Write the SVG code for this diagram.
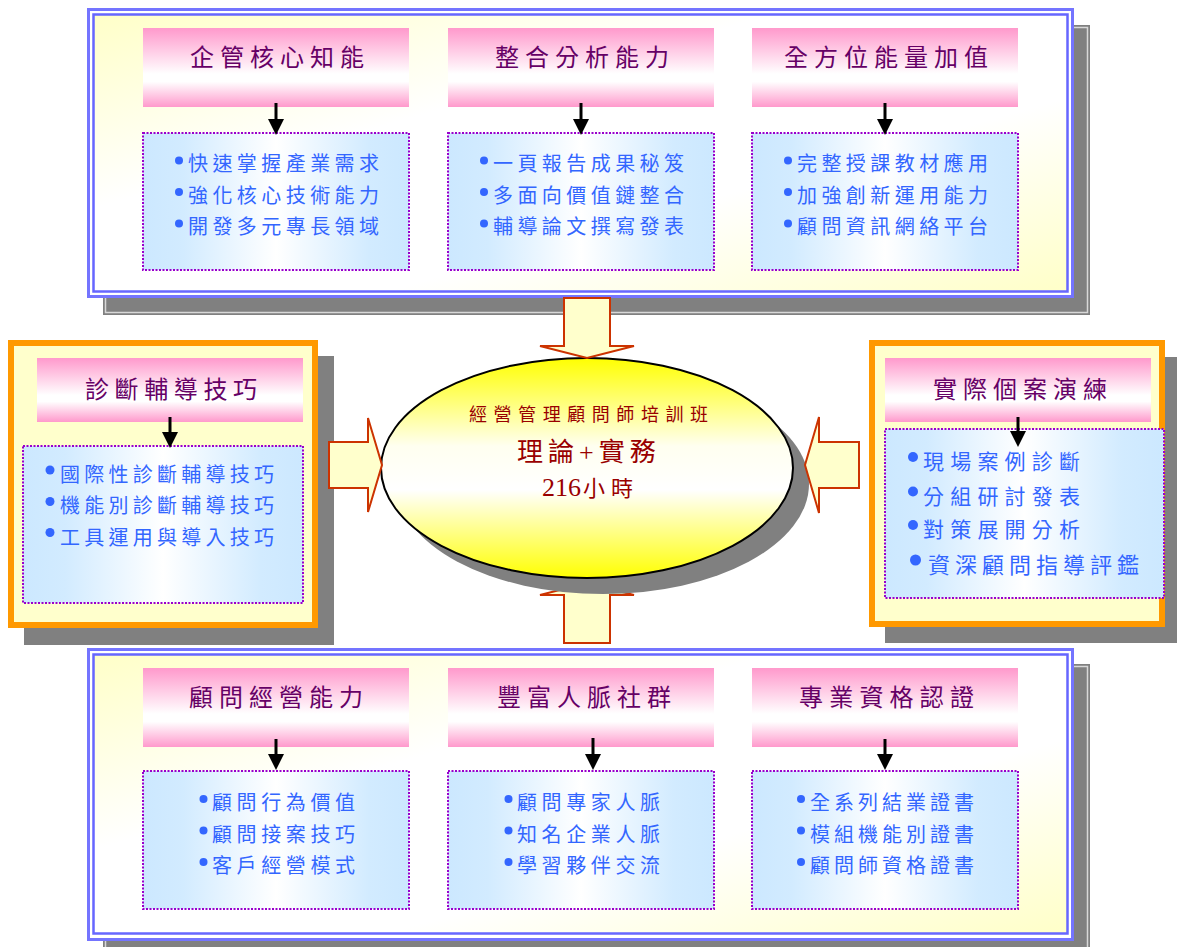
<svg xmlns="http://www.w3.org/2000/svg" width="1177" height="947" viewBox="0 0 1177 947">
<defs>
<linearGradient id="panelGrad" x1="0" y1="0" x2="1" y2="1">
<stop offset="0" stop-color="#ffffc8"/>
<stop offset="0.35" stop-color="#ffffff"/>
<stop offset="0.65" stop-color="#ffffff"/>
<stop offset="1" stop-color="#ffffc8"/>
</linearGradient>
<linearGradient id="pink" x1="0" y1="0" x2="0" y2="1">
<stop offset="0" stop-color="#ff99cc"/>
<stop offset="0.58" stop-color="#ffffff"/>
<stop offset="0.68" stop-color="#ffffff"/>
<stop offset="1" stop-color="#ff99cc"/>
</linearGradient>
<linearGradient id="blue" x1="0" y1="0" x2="1" y2="0">
<stop offset="0" stop-color="#cce8ff"/>
<stop offset="0.15" stop-color="#d2ebff"/>
<stop offset="0.5" stop-color="#ffffff"/>
<stop offset="0.85" stop-color="#d2ebff"/>
<stop offset="1" stop-color="#cce8ff"/>
</linearGradient>
<linearGradient id="ellGrad" x1="0" y1="0" x2="0" y2="1">
<stop offset="0" stop-color="#ffff00"/>
<stop offset="0.4" stop-color="#fffff0"/>
<stop offset="0.6" stop-color="#ffffff"/>
<stop offset="1" stop-color="#ffff00"/>
</linearGradient>
<marker id="ah" markerUnits="userSpaceOnUse" markerWidth="16" markerHeight="16" refX="8" refY="8" orient="auto">
<path d="M0,0 L16,8 L0,16 z" fill="#000"/>
</marker>
<style>
.title{font-family:"Noto Sans CJK TC","Noto Sans CJK SC",sans-serif;font-size:24px;fill:#660066;}
.item{font-family:"Noto Sans CJK TC","Noto Sans CJK SC",sans-serif;font-size:20px;fill:#3366ff;}
.ctr{font-family:"Liberation Serif","Noto Sans CJK TC",serif;fill:#990000;}
.hdr{fill:url(#pink);}
.lst{fill:url(#blue);stroke:#9900cc;stroke-width:2;stroke-dasharray:2 1.5;}
.dot{fill:#3366ff;}
.shadow{fill:#808080;}
.shline{fill:none;stroke:#d8d8d8;stroke-width:1.5;}
.pout{fill:#ffffff;stroke:#7474ff;stroke-width:3;}
.pin{fill:url(#panelGrad);stroke:#6666ff;stroke-width:2.5;}
.opan{fill:#ffffcc;stroke:#ff9900;stroke-width:6;}
.blk{fill:#ffffcc;stroke:#cc3300;stroke-width:2;}
.conn{stroke:#000;stroke-width:3;fill:none;marker-end:url(#ah);}
</style>
</defs>

<!-- shadows and panel frames -->
<g id="panel-top">
<rect class="shadow" x="103" y="25" width="987" height="290"/>
<rect class="shline" x="105.5" y="27.5" width="982" height="285"/>
<rect class="pout" x="88.5" y="9.5" width="984" height="287"/>
<rect class="pin" x="93.5" y="14.5" width="974" height="277"/>
</g>
<g id="panel-left">
<rect class="shadow" x="24" y="356" width="310" height="289"/>
<rect class="opan" x="11" y="343" width="304" height="282"/>
</g>
<g id="panel-right">
<rect class="shadow" x="885" y="357" width="296" height="286"/>
<rect class="opan" x="872" y="343" width="290" height="281"/>
</g>
<g id="panel-bottom">
<rect class="shadow" x="103" y="664" width="987" height="300"/>
<rect class="shline" x="105.5" y="666.5" width="982" height="295"/>
<rect class="pout" x="88.5" y="649.5" width="984" height="290"/>
<rect class="pin" x="93.5" y="654.5" width="974" height="279"/>
</g>

<!-- top row nodes -->
<g id="node-qiguan">
<rect class="hdr" x="143" y="28" width="266" height="79"/>
<text class="title" x="190" y="66" textLength="174" lengthAdjust="spacing">企管核心知能</text>
</g>
<g id="list-qiguan">
<rect class="lst" x="143" y="133" width="266" height="137"/>
<circle class="dot" cx="179" cy="160.5" r="4"/>
<circle class="dot" cx="179" cy="192" r="4"/>
<circle class="dot" cx="179" cy="223.5" r="4"/>
<text class="item" x="188" y="171" textLength="191" lengthAdjust="spacing">快速掌握產業需求</text>
<text class="item" x="188" y="202.5" textLength="191" lengthAdjust="spacing">強化核心技術能力</text>
<text class="item" x="188" y="234" textLength="191" lengthAdjust="spacing">開發多元專長領域</text>
</g>
<g id="node-zhenghe">
<rect class="hdr" x="448" y="28" width="266" height="79"/>
<text class="title" x="495" y="66" textLength="174" lengthAdjust="spacing">整合分析能力</text>
</g>
<g id="list-zhenghe">
<rect class="lst" x="448" y="133" width="266" height="137"/>
<circle class="dot" cx="484" cy="160.5" r="4"/>
<circle class="dot" cx="484" cy="192" r="4"/>
<circle class="dot" cx="484" cy="223.5" r="4"/>
<text class="item" x="493" y="171" textLength="191" lengthAdjust="spacing">一頁報告成果秘笈</text>
<text class="item" x="493" y="202.5" textLength="191" lengthAdjust="spacing">多面向價值鏈整合</text>
<text class="item" x="493" y="234" textLength="191" lengthAdjust="spacing">輔導論文撰寫發表</text>
</g>
<g id="node-quanfangwei">
<rect class="hdr" x="752" y="28" width="266" height="79"/>
<text class="title" x="784" y="66" textLength="204" lengthAdjust="spacing">全方位能量加值</text>
</g>
<g id="list-quanfangwei">
<rect class="lst" x="752" y="133" width="266" height="137"/>
<circle class="dot" cx="788" cy="160.5" r="4"/>
<circle class="dot" cx="788" cy="192" r="4"/>
<circle class="dot" cx="788" cy="223.5" r="4"/>
<text class="item" x="797" y="171" textLength="191" lengthAdjust="spacing">完整授課教材應用</text>
<text class="item" x="797" y="202.5" textLength="191" lengthAdjust="spacing">加強創新運用能力</text>
<text class="item" x="797" y="234" textLength="191" lengthAdjust="spacing">顧問資訊網絡平台</text>
</g>

<!-- left node -->
<g id="node-zhenduan">
<rect class="hdr" x="37" y="358" width="266" height="64"/>
<text class="title" x="85" y="397.5" textLength="172" lengthAdjust="spacing">診斷輔導技巧</text>
</g>
<g id="list-zhenduan">
<rect class="lst" x="23" y="446" width="280" height="157"/>
<circle class="dot" cx="50" cy="470" r="4.5"/>
<circle class="dot" cx="50" cy="501.5" r="4.5"/>
<circle class="dot" cx="50" cy="532.5" r="4.5"/>
<text class="item" x="60" y="481.5" textLength="214" lengthAdjust="spacing">國際性診斷輔導技巧</text>
<text class="item" x="60" y="513" textLength="214" lengthAdjust="spacing">機能別診斷輔導技巧</text>
<text class="item" x="60" y="544.5" textLength="214" lengthAdjust="spacing">工具運用與導入技巧</text>
</g>

<!-- right node -->
<g id="node-shiji">
<rect class="hdr" x="885" y="358" width="266" height="64"/>
<text class="title" x="933" y="397.5" textLength="174" lengthAdjust="spacing">實際個案演練</text>
</g>
<g id="list-shiji">
<rect class="lst" x="885" y="429" width="279" height="169"/>
<circle class="dot" cx="913" cy="457" r="5"/>
<circle class="dot" cx="913" cy="491.5" r="5"/>
<circle class="dot" cx="913" cy="525" r="5"/>
<circle class="dot" cx="915.5" cy="560" r="5.5"/>
<text class="item" x="923" y="469" style="font-size:21px" textLength="157" lengthAdjust="spacing">現場案例診斷</text>
<text class="item" x="923" y="504" style="font-size:21px" textLength="157" lengthAdjust="spacing">分組研討發表</text>
<text class="item" x="923" y="537" style="font-size:21px" textLength="157" lengthAdjust="spacing">對策展開分析</text>
<text class="item" x="928" y="572.5" style="font-size:22px" textLength="211" lengthAdjust="spacing">資深顧問指導評鑑</text>
</g>

<!-- bottom row nodes -->
<g id="node-guwen">
<rect class="hdr" x="143" y="668" width="266" height="79"/>
<text class="title" x="189" y="706" textLength="174" lengthAdjust="spacing">顧問經營能力</text>
</g>
<g id="list-guwen">
<rect class="lst" x="143" y="771" width="266" height="138"/>
<circle class="dot" cx="203.5" cy="799" r="4"/>
<circle class="dot" cx="203.5" cy="830.5" r="4"/>
<circle class="dot" cx="203.5" cy="862" r="4"/>
<text class="item" x="212" y="810" textLength="143" lengthAdjust="spacing">顧問行為價值</text>
<text class="item" x="212" y="841.5" textLength="143" lengthAdjust="spacing">顧問接案技巧</text>
<text class="item" x="212" y="873" textLength="143" lengthAdjust="spacing">客戶經營模式</text>
</g>
<g id="node-renmai">
<rect class="hdr" x="448" y="668" width="266" height="79"/>
<text class="title" x="497" y="706" textLength="174" lengthAdjust="spacing">豐富人脈社群</text>
</g>
<g id="list-renmai">
<rect class="lst" x="448" y="771" width="266" height="138"/>
<circle class="dot" cx="508.5" cy="799" r="4"/>
<circle class="dot" cx="508.5" cy="830.5" r="4"/>
<circle class="dot" cx="508.5" cy="862" r="4"/>
<text class="item" x="517" y="810" textLength="143" lengthAdjust="spacing">顧問專家人脈</text>
<text class="item" x="517" y="841.5" textLength="143" lengthAdjust="spacing">知名企業人脈</text>
<text class="item" x="517" y="873" textLength="143" lengthAdjust="spacing">學習夥伴交流</text>
</g>
<g id="node-zhuanye">
<rect class="hdr" x="752" y="668" width="266" height="79"/>
<text class="title" x="799" y="706" textLength="175" lengthAdjust="spacing">專業資格認證</text>
</g>
<g id="list-zhuanye">
<rect class="lst" x="752" y="771" width="266" height="138"/>
<circle class="dot" cx="801" cy="799" r="4"/>
<circle class="dot" cx="801" cy="830.5" r="4"/>
<circle class="dot" cx="801" cy="862" r="4"/>
<text class="item" x="810" y="810" textLength="164" lengthAdjust="spacing">全系列結業證書</text>
<text class="item" x="810" y="841.5" textLength="164" lengthAdjust="spacing">模組機能別證書</text>
<text class="item" x="810" y="873" textLength="164" lengthAdjust="spacing">顧問師資格證書</text>
</g>

<!-- connectors -->
<g id="connectors">
<line class="conn" x1="276" y1="103" x2="276" y2="127"/>
<line class="conn" x1="581" y1="103" x2="581" y2="127"/>
<line class="conn" x1="885" y1="103" x2="885" y2="127"/>
<line class="conn" x1="170" y1="417" x2="170" y2="440"/>
<line class="conn" x1="1018" y1="417" x2="1018" y2="439"/>
<line class="conn" x1="276" y1="739" x2="276" y2="762"/>
<line class="conn" x1="593" y1="738" x2="593" y2="762"/>
<line class="conn" x1="885" y1="739" x2="885" y2="762"/>
<polygon id="blk-bottom" class="blk" points="564,643 610,643 610,595 634,595 587,583 540,595 564,595"/>
</g>

<!-- center node -->
<g id="node-center">
<ellipse cx="603" cy="484" rx="206" ry="110" fill="#808080"/>
<ellipse cx="587" cy="468" rx="206" ry="110" fill="url(#ellGrad)" stroke="#000" stroke-width="2"/>
<text class="ctr" x="469" y="421" style="font-size:18px" textLength="239" lengthAdjust="spacing">經營管理顧問師培訓班</text>
<text class="ctr" x="517" y="460.5" style="font-size:26px;letter-spacing:5px">理論+實務</text>
<text class="ctr" x="542" y="496" style="font-size:22px"><tspan style="font-size:26px">216</tspan><tspan dx="2" style="letter-spacing:6px">小時</tspan></text>
</g>

<g id="connectors-block">
<polygon class="blk" points="564,298 610,298 610,346 634,346 587,358 540,346 564,346"/>
<polygon class="blk" points="329,442 368,442 368,418 382,465 368,512 368,488 329,488"/>
<polygon class="blk" points="859,442 819,442 819,417 805,465 819,513 819,488 859,488"/>
</g>
</svg>
